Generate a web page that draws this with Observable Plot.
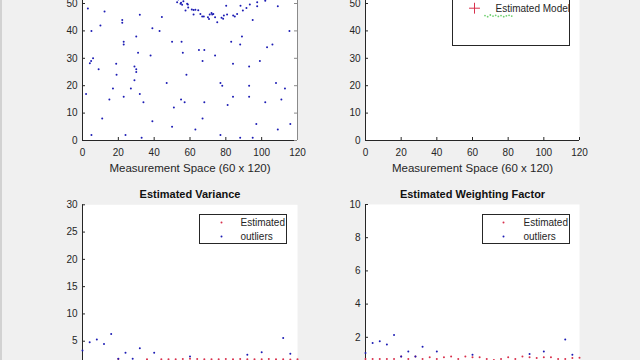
<!DOCTYPE html>
<html>
<head>
<meta charset="utf-8">
<script src="https://cdn.jsdelivr.net/npm/d3@7"></script>
<script src="https://cdn.jsdelivr.net/npm/@observablehq/plot@0.6"></script>
<style>
  html, body { margin: 0; padding: 0; background: #f0f0f0; }
  #fig { position: relative; width: 640px; height: 360px; overflow: hidden; background: #f0f0f0; }
  #fig svg { position: absolute; overflow: visible; }
  #edge { position: absolute; left: 0; top: 0; width: 2px; height: 360px; background: #d2d2d2; }
</style>
</head>
<body>
<div id="fig"><div id="edge"></div></div>
<script>
// ---------- data ----------
const measXTicks = [0, 20, 40, 60, 80, 100, 120];
const measYTicks = [0, 10, 20, 30, 40, 50];
const varYTicks = [0, 5, 10, 15, 20, 25, 30];
const wYTicks = [0, 2, 4, 6, 8, 10];
const idxTicks = [0, 5, 10, 15, 20, 25, 30];

const measX = [3,12.3,5,10,22.2,22.2,32,44.3,39,43,30,23,23,31,38,50,55.3,56,65,68,67,74,83,88,89,84,93,99,103,106,115.5,95,109,
  4.1,4.8,5.9,9,18.8,19,17,15,23,27,29,30,30,29,32,34,2,11,5,24,33,39,50,47,51,55,57,58,63,67,68,77,77,78,81,84,88,93,93,95,97,102,108,109,111,113,116,
  52.8,53.5,54.7,55.6,55,56.3,58.4,57.5,58.8,59,61,62,63,64.6,62,65.8,66.8,67.7,70,70.6,71,72,72.4,73,74,75.2,77.6,78.5,78.9,80.2,80.7,84.1,85,86.3,88.2,89.5,91.5,93.4,97.5,97.5,102];
const measY = [48.2,47.1,40,42,44,43,45.9,45.1,41,40,38,36,35,32,31,36,36,32,33,33,29,31,36,35,38,28,27,29,34,35,40,44,49,
  28.2,29,30,26,28,24,19,15,16,19,27,26,25,22,17,14,17,8,2,2,1,7,5,21,12,15,14,24,4,8,14,2,21,20,13,16,1,20,16,1,6,14,21,4,15,19,6,
  50.5,51.5,49.9,49.5,50.3,50.8,49.9,47.4,49.6,48.5,47.8,47.6,47.7,47.5,46,46.2,45.3,45.3,45,44.3,46,46.5,46,46.2,45,43.2,44.8,44.4,45.6,49.2,46,45.6,45.3,46.2,49.2,47.4,48.4,49.6,50.5,49,51];

const modelX = [67,68.5,70,71.5,73,74.5,76,77.5,79,80.5,82];
const modelY = [45.6,45.2,45.8,45.4,45.7,45.3,45.6,45.2,45.5,45.7,45.4];

const estIndex = d3.range(0, 31);
const estVar = [1.2,1.2,1.2,1.2,1.2,1.75,1.2,1.2,1.3,1.7,1.3,1.7,1.7,1.7,1.75,1.8,1.75,1.7,1.7,1.7,1.75,1.7,1.75,1.7,1.7,1.7,1.75,1.7,1.7,1.65,1.7];
const estW = [0.7,0.7,0.7,0.7,0.7,0.84,0.7,0.84,0.7,0.8,0.7,0.8,0.84,0.7,0.84,0.8,0.8,0.7,0.64,0.7,0.8,0.7,0.84,0.8,0.75,0.8,0.8,0.7,0.7,0.75,0.77];
const outIndex = [0,1,2,3,4,5,6,7,8,10,15,23,25,28,29];
const outVar = [3.3,4.8,5.3,4.5,6.3,1.8,2.9,1.8,3.7,2.9,2.2,2.5,3.0,5.6,2.7];
const outW = [1.06,1.66,1.76,1.57,2.14,0.84,1.14,0.84,1.43,1.14,0.95,1.0,1.14,1.86,0.95];

const xLabelText = "Measurement Space (60 x 120)";
const titleVar = "Estimated Variance";
const titleW = "Estimated Weighting Factor";
const legendModel = "Estimated Model";
const legendEst = "Estimated";
const legendOut = "outliers";

// ---------- helpers ----------
const FONT = "'Liberation Sans', Arial, Helvetica, sans-serif";
const INK = "#262626";
const BLUE = "#1c1cb4";
const RED = "#d8304c";

// xLabels / yLabels: which tick values get a text label (the rest fall outside the visible figure)
function axesMarks(xTicks, yTicks, fw, fh, xLabels, yLabels) {
  const marks = [
    Plot.frame({fill: "white", stroke: "none"}),
    Plot.tickX(xTicks, {x: d => d, insetTop: fh - 3, stroke: INK}),
    Plot.tickY(yTicks, {y: d => d, insetRight: fw - 3, stroke: INK}),
    Plot.ruleX([xTicks[0]], {stroke: INK}),
    Plot.ruleY([yTicks[0]], {stroke: INK})
  ];
  if (xLabels.length) marks.push(Plot.axisX(xLabels, {tickSize: 0, tickPadding: 8, label: null, fill: INK, fontSize: 10}));
  if (yLabels.length) marks.push(Plot.axisY(yLabels, {tickSize: 0, tickPadding: 5, label: null, fill: INK, fontSize: 10}));
  return marks;
}
function place(svg, left, top) {
  svg.style.left = left + "px";
  svg.style.top = top + "px";
  svg.style.background = "transparent";
  document.getElementById("fig").appendChild(svg);
}
const baseStyle = {background: "transparent", fontFamily: FONT, fontSize: "10px", color: INK, overflow: "visible"};
const legendText = (s, dx, dy) => Plot.text([s], {text: d => d, frameAnchor: "top-left", dx, dy, textAnchor: "start", lineAnchor: "middle", fontSize: 10, fill: INK});

// ---------- top-left: measurements ----------
const measPts = measX.map((x, i) => ({x, y: measY[i]}));
const tl = Plot.plot({
  width: 320, height: 210, marginLeft: 82, marginRight: 23, marginTop: 5.6, marginBottom: 40,
  x: {domain: [0, 120]}, y: {domain: [0, 60]},
  style: baseStyle,
  marks: [
    ...axesMarks(measXTicks, measYTicks, 215, 164.4, measXTicks, measYTicks),
    Plot.ruleX([120], {stroke: "#8a8a8a"}),
    Plot.tickY(measYTicks, {y: d => d, insetLeft: 215 - 3, stroke: "#8a8a8a"}),
    Plot.dot(measPts, {x: "x", y: "y", r: 1, fill: BLUE, stroke: "none"}),
    Plot.text([xLabelText], {text: d => d, frameAnchor: "bottom", dy: 28, fontSize: 11.5, fill: INK, lineAnchor: "middle"})
  ]
});
place(tl, 0, -30);

// ---------- top-right: estimated model ----------
const modelPts = modelX.map((x, i) => ({x, y: modelY[i]}));
const tr = Plot.plot({
  width: 320, height: 210, marginLeft: 45, marginRight: 61, marginTop: 5.6, marginBottom: 40,
  x: {domain: [0, 120]}, y: {domain: [0, 60]},
  style: baseStyle,
  marks: [
    ...axesMarks(measXTicks, measYTicks, 214, 164.4, measXTicks, measYTicks),
    Plot.frame({insetLeft: 87, insetRight: 10, insetTop: 4, insetBottom: 95, fill: "white", stroke: INK}),
    Plot.dot([0], {frameAnchor: "top-left", dx: 109, dy: 32.1, symbol: "plus", r: 3.6, stroke: RED, strokeWidth: 1, fill: "none"}),
    legendText(legendModel, 130, 32.4),
    Plot.dot(modelPts, {x: "x", y: "y", r: 0.9, fill: "#70d070", stroke: "none"}),
    Plot.text([xLabelText], {text: d => d, frameAnchor: "bottom", dy: 28, fontSize: 11.5, fill: INK, lineAnchor: "middle"})
  ]
});
place(tr, 320, -30);

// ---------- bottom-left: estimated variance ----------
const estVarPts = estIndex.map((k, i) => ({x: k, y: estVar[i]}));
const outVarPts = outIndex.map((k, i) => ({x: k, y: outVar[i]}));
const bl = Plot.plot({
  width: 320, height: 200, marginLeft: 82, marginRight: 23, marginTop: 24.3, marginBottom: 12,
  x: {domain: [0, 30]}, y: {domain: [0, 30]},
  style: baseStyle,
  marks: [
    ...axesMarks(idxTicks, varYTicks, 215, 163.7, [], varYTicks.slice(1)),
    Plot.dot(estVarPts, {x: "x", y: "y", r: 1, fill: RED, stroke: "none"}),
    Plot.dot(outVarPts, {x: "x", y: "y", r: 1, fill: BLUE, stroke: "none"}),
    Plot.frame({insetLeft: 117, insetRight: 11, insetTop: 9.7, insetBottom: 125, fill: "white", stroke: INK}),
    Plot.dot([0], {frameAnchor: "top-left", dx: 139, dy: 17.7, r: 1, fill: RED, stroke: "none"}),
    Plot.dot([0], {frameAnchor: "top-left", dx: 139, dy: 31.7, r: 1, fill: BLUE, stroke: "none"}),
    legendText(legendEst, 158, 17.7),
    legendText(legendOut, 158, 31.7),
    Plot.text([titleVar], {text: d => d, frameAnchor: "top", dy: -10.3, fontSize: 11, fontWeight: "bold", fill: "#111", lineAnchor: "middle"})
  ]
});
place(bl, 0, 180);

// ---------- bottom-right: estimated weighting factor ----------
const estWPts = estIndex.map((k, i) => ({x: k, y: estW[i]}));
const outWPts = outIndex.map((k, i) => ({x: k, y: outW[i]}));
const br = Plot.plot({
  width: 320, height: 200, marginLeft: 45, marginRight: 61, marginTop: 24, marginBottom: 10,
  x: {domain: [0, 30]}, y: {domain: [0, 10]},
  style: baseStyle,
  marks: [
    ...axesMarks(idxTicks, wYTicks, 214, 166, [], wYTicks.slice(1)),
    Plot.dot(estWPts, {x: "x", y: "y", r: 1, fill: RED, stroke: "none"}),
    Plot.dot(outWPts, {x: "x", y: "y", r: 1, fill: BLUE, stroke: "none"}),
    Plot.frame({insetLeft: 117, insetRight: 10, insetTop: 10, insetBottom: 127, fill: "white", stroke: INK}),
    Plot.dot([0], {frameAnchor: "top-left", dx: 138, dy: 18, r: 1, fill: RED, stroke: "none"}),
    Plot.dot([0], {frameAnchor: "top-left", dx: 138, dy: 32, r: 1, fill: BLUE, stroke: "none"}),
    legendText(legendEst, 158, 18),
    legendText(legendOut, 158, 32),
    Plot.text([titleW], {text: d => d, frameAnchor: "top", dy: -10, fontSize: 11, fontWeight: "bold", fill: "#111", lineAnchor: "middle"})
  ]
});
place(br, 320, 180);
</script>
</body>
</html>
